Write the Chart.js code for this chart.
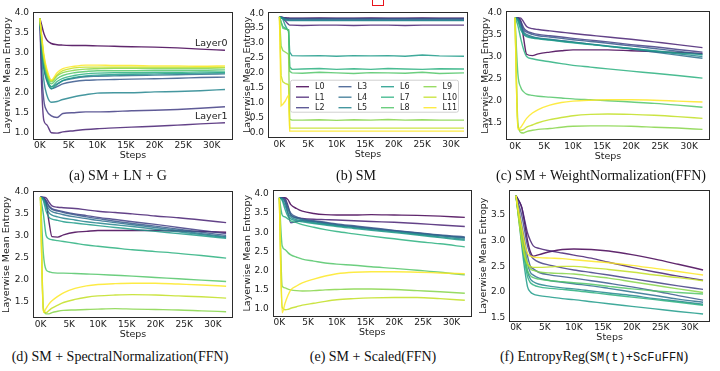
<!DOCTYPE html>
<html>
<head>
<meta charset="utf-8">
<script src="https://cdn.jsdelivr.net/npm/chart.js@4.4.1/dist/chart.umd.min.js"></script>
<style>
  body { margin: 0; background: #fff; }
  #fig { position: relative; width: 720px; height: 371px; overflow: hidden; }
  canvas { position: absolute; }
  .cap { position: absolute; width: 260px; text-align: center; font: 14px "Liberation Serif", "Times New Roman", serif; color: #111; line-height: 16px; white-space: nowrap; }
  .mono { font: 12px "Liberation Mono", monospace; }
  #mark { position: absolute; left: 372px; top: -2px; width: 10px; height: 6px; border: 1.5px solid #e8141c; }
</style>
</head>
<body>
<div id="fig">
  <canvas id="pa"></canvas>
  <canvas id="pb"></canvas>
  <canvas id="pc"></canvas>
  <canvas id="pd"></canvas>
  <canvas id="pe"></canvas>
  <canvas id="pf"></canvas>
  <div id="mark"></div>
  <div class="cap" style="left:-12px;top:168px">(a) SM + LN + G</div>
  <div class="cap" style="left:226px;top:168px">(b) SM</div>
  <div class="cap" style="left:471px;top:168px">(c) SM + WeightNormalization(FFN)</div>
  <div class="cap" style="left:-10px;top:349px">(d) SM + SpectralNormalization(FFN)</div>
  <div class="cap" style="left:243px;top:349px">(e) SM + Scaled(FFN)</div>
  <div class="cap" style="left:464px;top:349px">(f) EntropyReg(<span class="mono">SM(t)+ScFuFFN</span>)</div>
</div>
<script>
// layer names and viridis colours
const layerNames = ["L0", "L1", "L2", "L3", "L4", "L5", "L6", "L7", "L8", "L9", "L10", "L11"];
const layerColors = ["#440154", "#482173", "#433e85", "#38588c", "#2d708e", "#25858e",
                     "#1e9b8a", "#2ab07f", "#52c569", "#86d549", "#c2df23", "#fde725"];
const stepTicks = [0, 5000, 10000, 15000, 20000, 25000, 30000];

// (a) SM + LN + G
const stepsA = [0, 300, 700, 1200, 2000, 3000, 4000, 6000, 8000, 10000, 13000, 16000, 20000, 24000, 28000, 32300];
const entropyA = [
  [3.86, 3.7, 3.48, 3.32, 3.23, 3.2, 3.19, 3.18, 3.18, 3.17, 3.16, 3.15, 3.14, 3.12, 3.09, 3.06],
  [3.86, 2.2, 1.3, 1.2, 1.0, 0.99, 1.02, 1.05, 1.08, 1.1, 1.12, 1.14, 1.16, 1.19, 1.22, 1.25],
  [3.86, 2.6, 1.8, 1.55, 1.42, 1.38, 1.48, 1.5, 1.52, 1.52, 1.53, 1.55, 1.56, 1.58, 1.61, 1.65],
  [3.86, 3.2, 2.6, 2.3, 2.1, 2.15, 2.22, 2.28, 2.31, 2.32, 2.33, 2.34, 2.35, 2.36, 2.38, 2.39],
  [3.86, 3.2, 2.65, 2.35, 2.15, 2.22, 2.3, 2.36, 2.4, 2.41, 2.42, 2.43, 2.44, 2.45, 2.46, 2.47],
  [3.86, 3.0, 2.3, 1.95, 1.76, 1.78, 1.83, 1.9, 1.95, 1.99, 2.0, 2.0, 2.02, 2.03, 2.05, 2.08],
  [3.86, 3.3, 2.7, 2.35, 2.1, 2.2, 2.3, 2.38, 2.42, 2.44, 2.45, 2.46, 2.47, 2.48, 2.49, 2.5],
  [3.86, 3.3, 2.75, 2.4, 2.15, 2.28, 2.36, 2.43, 2.47, 2.49, 2.5, 2.5, 2.51, 2.51, 2.52, 2.52],
  [3.86, 3.35, 2.8, 2.45, 2.22, 2.35, 2.43, 2.5, 2.53, 2.55, 2.55, 2.55, 2.56, 2.56, 2.56, 2.57],
  [3.86, 3.4, 2.85, 2.5, 2.27, 2.42, 2.5, 2.56, 2.59, 2.6, 2.61, 2.61, 2.61, 2.61, 2.61, 2.62],
  [3.86, 3.4, 2.9, 2.55, 2.3, 2.45, 2.55, 2.62, 2.64, 2.64, 2.64, 2.64, 2.64, 2.64, 2.64, 2.64],
  [3.86, 3.45, 2.95, 2.6, 2.32, 2.5, 2.6, 2.66, 2.69, 2.69, 2.68, 2.68, 2.67, 2.67, 2.66, 2.67]
];

// (b) SM
const stepsB = [0, 300, 600, 1000, 1400, 1600, 1800, 2200, 4000, 7000, 10000, 13000, 16000, 19000, 22000, 25000, 28000, 32300];
const entropyB = [
  [3.88, 3.87, 3.86, 3.85, 3.84, 3.84, 3.83, 3.83, 3.83, 3.84, 3.83, 3.83, 3.84, 3.83, 3.83, 3.84, 3.83, 3.83],
  [3.88, 3.86, 3.82, 3.75, 3.66, 3.62, 3.6, 3.6, 3.59, 3.6, 3.6, 3.59, 3.6, 3.6, 3.59, 3.6, 3.6, 3.6],
  [3.88, 3.87, 3.85, 3.83, 3.81, 3.8, 3.8, 3.8, 3.8, 3.8, 3.81, 3.8, 3.8, 3.8, 3.81, 3.8, 3.8, 3.8],
  [3.88, 3.87, 3.86, 3.84, 3.82, 3.82, 3.82, 3.82, 3.82, 3.82, 3.82, 3.82, 3.82, 3.82, 3.82, 3.82, 3.82, 3.82],
  [3.88, 3.86, 3.84, 3.8, 3.78, 3.78, 3.77, 3.77, 3.77, 3.77, 3.77, 3.77, 3.77, 3.77, 3.77, 3.77, 3.77, 3.77],
  [3.88, 3.85, 3.82, 3.78, 3.75, 3.75, 3.75, 3.75, 3.75, 3.76, 3.75, 3.75, 3.76, 3.75, 3.75, 3.75, 3.76, 3.75],
  [3.88, 3.85, 3.8, 3.6, 3.45, 3.4, 2.7, 2.58, 2.57, 2.58, 2.56, 2.58, 2.57, 2.58, 2.56, 2.6, 2.57, 2.56],
  [3.88, 3.7, 3.55, 3.5, 3.45, 3.45, 2.2, 2.12, 2.13, 2.15, 2.12, 2.14, 2.12, 2.15, 2.13, 2.12, 2.14, 2.13],
  [3.88, 3.7, 3.5, 3.47, 3.45, 3.42, 2.05, 2.0, 1.99, 2.02, 2.0, 1.98, 2.01, 2.0, 1.99, 2.02, 1.98, 2.0],
  [3.88, 2.9, 2.75, 2.7, 2.65, 2.62, 0.45, 0.42, 0.42, 0.43, 0.41, 0.43, 0.42, 0.44, 0.42, 0.43, 0.42, 0.42],
  [3.88, 1.9, 1.7, 1.65, 1.62, 1.6, 0.16, 0.15, 0.15, 0.15, 0.15, 0.15, 0.15, 0.15, 0.15, 0.15, 0.15, 0.15],
  [3.88, 0.9, 0.95, 1.05, 1.2, 1.25, 0.05, 0.05, 0.05, 0.05, 0.05, 0.05, 0.05, 0.05, 0.05, 0.05, 0.05, 0.05]
];

// (c) SM + WeightNormalization(FFN)
const stepsC = [0, 500, 1000, 1500, 2000, 3000, 4000, 6000, 8000, 10000, 13000, 16000, 20000, 24000, 28000, 32300];
const entropyC = [
  [3.88, 3.87, 3.8, 3.4, 3.05, 3.02, 3.06, 3.1, 3.13, 3.15, 3.15, 3.15, 3.13, 3.11, 3.09, 3.07],
  [3.88, 3.88, 3.87, 3.78, 3.68, 3.63, 3.61, 3.58, 3.55, 3.52, 3.48, 3.44, 3.39, 3.33, 3.27, 3.2],
  [3.88, 3.87, 3.8, 3.65, 3.58, 3.53, 3.5, 3.47, 3.44, 3.41, 3.37, 3.33, 3.27, 3.22, 3.16, 3.1],
  [3.88, 3.86, 3.75, 3.6, 3.55, 3.5, 3.47, 3.44, 3.41, 3.38, 3.34, 3.3, 3.24, 3.18, 3.12, 3.05],
  [3.88, 3.85, 3.7, 3.55, 3.5, 3.45, 3.42, 3.39, 3.36, 3.33, 3.28, 3.23, 3.17, 3.1, 3.03, 2.96],
  [3.88, 3.84, 3.65, 3.52, 3.47, 3.43, 3.41, 3.38, 3.35, 3.32, 3.28, 3.24, 3.18, 3.12, 3.06, 3.0],
  [3.88, 3.8, 3.6, 3.5, 3.45, 3.42, 3.4, 3.37, 3.34, 3.31, 3.27, 3.23, 3.18, 3.13, 3.08, 3.04],
  [3.88, 3.7, 3.4, 3.15, 3.0, 2.95, 2.92, 2.88, 2.84, 2.8, 2.76, 2.72, 2.67, 2.62, 2.57, 2.51],
  [3.88, 2.6, 2.3, 2.2, 2.15, 2.12, 2.1, 2.08, 2.06, 2.04, 2.02, 2.0, 1.97, 1.94, 1.9, 1.85],
  [3.88, 1.5, 1.28, 1.27, 1.3, 1.33, 1.35, 1.37, 1.4, 1.42, 1.43, 1.43, 1.42, 1.4, 1.38, 1.35],
  [3.88, 1.4, 1.33, 1.35, 1.4, 1.45, 1.5, 1.57, 1.62, 1.66, 1.69, 1.7, 1.69, 1.67, 1.64, 1.6],
  [3.88, 1.35, 1.4, 1.5, 1.6, 1.72, 1.8, 1.9, 1.96, 1.99, 2.01, 2.02, 2.02, 2.01, 1.99, 1.97]
];

// (d) SM + SpectralNormalization(FFN)
const stepsD = [0, 500, 1000, 1500, 2000, 3000, 4000, 6000, 8000, 10000, 13000, 16000, 20000, 24000, 28000, 32300];
const entropyD = [
  [3.88, 3.87, 3.75, 3.3, 2.98, 2.97, 3.02, 3.08, 3.1, 3.12, 3.12, 3.12, 3.12, 3.11, 3.1, 3.08],
  [3.88, 3.88, 3.86, 3.76, 3.68, 3.65, 3.64, 3.62, 3.59, 3.56, 3.53, 3.5, 3.45, 3.41, 3.36, 3.3],
  [3.88, 3.87, 3.8, 3.68, 3.62, 3.58, 3.55, 3.5, 3.46, 3.42, 3.37, 3.32, 3.26, 3.19, 3.12, 3.05],
  [3.88, 3.86, 3.78, 3.66, 3.6, 3.56, 3.53, 3.48, 3.43, 3.39, 3.33, 3.28, 3.22, 3.15, 3.08, 3.01],
  [3.88, 3.85, 3.72, 3.6, 3.55, 3.51, 3.48, 3.43, 3.39, 3.35, 3.3, 3.25, 3.19, 3.12, 3.05, 2.98],
  [3.88, 3.84, 3.65, 3.52, 3.47, 3.43, 3.4, 3.36, 3.32, 3.29, 3.25, 3.21, 3.15, 3.09, 3.03, 2.96],
  [3.88, 3.8, 3.55, 3.42, 3.38, 3.35, 3.32, 3.29, 3.26, 3.23, 3.19, 3.15, 3.1, 3.05, 3.0, 2.94],
  [3.88, 3.5, 3.0, 2.93, 2.91, 2.89, 2.87, 2.83, 2.79, 2.76, 2.72, 2.68, 2.64, 2.6, 2.55, 2.49],
  [3.88, 2.6, 2.22, 2.18, 2.16, 2.15, 2.15, 2.14, 2.13, 2.12, 2.1, 2.08, 2.05, 2.02, 1.99, 1.96],
  [3.88, 1.35, 1.22, 1.22, 1.25, 1.28, 1.3, 1.31, 1.32, 1.33, 1.34, 1.33, 1.32, 1.31, 1.29, 1.27],
  [3.88, 1.3, 1.25, 1.3, 1.35, 1.42, 1.48, 1.55, 1.6, 1.63, 1.65, 1.66, 1.65, 1.63, 1.61, 1.58],
  [3.88, 1.25, 1.35, 1.45, 1.52, 1.62, 1.7, 1.8, 1.86, 1.89, 1.91, 1.92, 1.92, 1.9, 1.88, 1.85]
];

// (e) SM + Scaled(FFN)
const stepsE = [0, 500, 1000, 1500, 2000, 3000, 4000, 6000, 8000, 10000, 13000, 16000, 20000, 24000, 28000, 32300];
const entropyE = [
  [3.9, 3.9, 3.9, 3.85, 3.72, 3.62, 3.55, 3.49, 3.46, 3.45, 3.45, 3.46, 3.45, 3.44, 3.42, 3.39],
  [3.9, 3.9, 3.88, 3.7, 3.45, 3.38, 3.36, 3.34, 3.33, 3.32, 3.3, 3.28, 3.26, 3.23, 3.19, 3.15],
  [3.9, 3.9, 3.8, 3.5, 3.25, 3.28, 3.3, 3.28, 3.25, 3.2, 3.15, 3.1, 3.04, 2.98, 2.92, 2.86],
  [3.9, 3.89, 3.85, 3.65, 3.5, 3.4, 3.35, 3.3, 3.26, 3.22, 3.17, 3.12, 3.05, 2.99, 2.93, 2.88],
  [3.9, 3.88, 3.8, 3.6, 3.45, 3.37, 3.33, 3.28, 3.23, 3.19, 3.14, 3.09, 3.03, 2.97, 2.91, 2.85],
  [3.9, 3.86, 3.7, 3.5, 3.4, 3.33, 3.3, 3.25, 3.21, 3.17, 3.12, 3.07, 3.01, 2.95, 2.88, 2.82],
  [3.9, 3.83, 3.6, 3.42, 3.35, 3.3, 3.27, 3.23, 3.19, 3.15, 3.1, 3.05, 2.99, 2.93, 2.86, 2.79],
  [3.9, 3.45, 3.4, 3.35, 3.3, 3.25, 3.2, 3.13, 3.07, 3.02, 2.96, 2.9, 2.83, 2.76, 2.7, 2.62],
  [3.9, 2.65, 2.55, 2.47, 2.41, 2.35, 2.3, 2.25, 2.2, 2.17, 2.14, 2.1, 2.06, 2.01, 1.96, 1.89],
  [3.9, 1.6, 1.55, 1.52, 1.5, 1.48, 1.47, 1.48, 1.5, 1.51, 1.52, 1.52, 1.51, 1.48, 1.45, 1.41],
  [3.9, 1.05, 0.98, 0.99, 1.02, 1.06, 1.1, 1.15, 1.2, 1.24, 1.27, 1.29, 1.3, 1.3, 1.27, 1.23],
  [3.9, 0.9, 1.15, 1.35, 1.5, 1.6, 1.68, 1.78, 1.86, 1.92, 1.96, 1.97, 1.97, 1.96, 1.94, 1.92]
];

// (f) EntropyReg(SM(t)+ScFuFFN)
const stepsF = [0, 500, 1000, 1500, 2000, 2500, 3000, 4000, 6000, 8000, 10000, 13000, 16000, 20000, 24000, 28000, 32300];
const entropyF = [
  [3.88, 3.78, 3.65, 3.35, 3.0, 2.78, 2.7, 2.73, 2.79, 2.83, 2.84, 2.83, 2.8, 2.73, 2.64, 2.54, 2.43],
  [3.88, 3.78, 3.65, 3.4, 3.15, 3.0, 2.9, 2.85, 2.8, 2.76, 2.72, 2.66, 2.58, 2.48, 2.39, 2.31, 2.23],
  [3.88, 3.7, 3.5, 3.2, 2.9, 2.72, 2.65, 2.58, 2.52, 2.47, 2.43, 2.38, 2.33, 2.26, 2.19, 2.12, 2.05],
  [3.88, 3.6, 3.3, 3.0, 2.7, 2.5, 2.45, 2.38, 2.33, 2.3, 2.27, 2.22, 2.17, 2.1, 2.02, 1.93, 1.84],
  [3.88, 3.55, 3.2, 2.85, 2.55, 2.38, 2.33, 2.27, 2.22, 2.19, 2.16, 2.12, 2.07, 2.0, 1.93, 1.86, 1.8],
  [3.88, 3.5, 3.1, 2.7, 2.4, 2.25, 2.2, 2.15, 2.11, 2.08, 2.06, 2.02, 1.98, 1.93, 1.87, 1.82, 1.76],
  [3.88, 3.4, 2.9, 2.45, 2.1, 2.0, 1.96, 1.93, 1.9, 1.87, 1.85, 1.81, 1.77, 1.72, 1.67, 1.62, 1.57],
  [3.88, 3.45, 3.0, 2.6, 2.3, 2.18, 2.14, 2.1, 2.07, 2.05, 2.03, 1.99, 1.95, 1.9, 1.85, 1.8, 1.74],
  [3.88, 3.45, 3.05, 2.7, 2.42, 2.32, 2.28, 2.25, 2.22, 2.2, 2.18, 2.15, 2.11, 2.06, 2.02, 1.99, 1.96],
  [3.88, 3.5, 3.15, 2.8, 2.55, 2.45, 2.42, 2.39, 2.37, 2.36, 2.35, 2.31, 2.27, 2.2, 2.13, 2.06, 1.99],
  [3.88, 3.4, 3.0, 2.7, 2.55, 2.5, 2.48, 2.48, 2.49, 2.5, 2.5, 2.47, 2.44, 2.39, 2.33, 2.28, 2.22],
  [3.88, 3.55, 3.25, 2.95, 2.75, 2.7, 2.68, 2.67, 2.66, 2.65, 2.63, 2.6, 2.57, 2.52, 2.46, 2.4, 2.33]
];

const FONT = "'DejaVu Sans', sans-serif";
const INK = "#222";

function withAlpha(hex, a) {
    const n = parseInt(hex.slice(1), 16);
    return `rgba(${n >> 16},${(n >> 8) & 255},${n & 255},${a})`;
}

const framePlugin = {
    id: "frame",
    afterDraw(chart) {
        const {ctx, chartArea: a} = chart;
        ctx.save();
        ctx.strokeStyle = "#2b2b2b";
        ctx.lineWidth = 1;
        ctx.strokeRect(Math.round(a.left) + 0.5, Math.round(a.top) + 0.5,
            Math.round(a.right - a.left) - 1, Math.round(a.bottom - a.top) - 1);
        ctx.restore();
    }
};

// layout: canvas box and plot box in page pixels
function makePanel(id, steps, series, cfg) {
    const canvas = document.getElementById(id);
    canvas.width = cfg.w;
    canvas.height = cfg.h;
    canvas.style.left = cfg.x + "px";
    canvas.style.top = cfg.y + "px";
    const xAxisH = 22;
    const plot = cfg.plot;

    const datasets = series.map((vals, i) => ({
        label: layerNames[i],
        data: steps.map((s, k) => ({x: s, y: vals[k]})),
        borderColor: withAlpha(layerColors[i], 0.85),
        backgroundColor: withAlpha(layerColors[i], 0.85),
        borderWidth: 1.4,
        pointRadius: 0,
        cubicInterpolationMode: cfg.smooth ? "monotone" : "default",
        tension: 0,
        order: 11 - i
    }));

    return new Chart(canvas, {
        type: "line",
        data: {datasets},
        options: {
            responsive: false,
            animation: false,
            events: [],
            layout: {
                padding: {
                    left: 0,
                    top: plot.t - cfg.y,
                    right: cfg.x + cfg.w - plot.r,
                    bottom: cfg.y + cfg.h - plot.b - xAxisH
                }
            },
            plugins: {legend: {display: false}, tooltip: {enabled: false}},
            scales: {
                x: {
                    type: "linear",
                    min: cfg.xMin, max: cfg.xMax,
                    grid: {display: false, drawTicks: false},
                    border: {display: false},
                    afterBuildTicks: scale => { scale.ticks = stepTicks.map(v => ({value: v})); },
                    ticks: {
                        font: {family: FONT, size: 9}, color: INK, padding: 1,
                        maxRotation: 0, autoSkip: false,
                        callback: v => (v / 1000) + "K"
                    },
                    title: {display: true, text: "Steps", font: {family: FONT, size: 9.5}, color: INK, padding: {top: 0, bottom: 0}},
                    afterFit: scale => { scale.height = xAxisH; }
                },
                y: {
                    min: cfg.yMin, max: cfg.yMax,
                    grid: {display: false, drawTicks: false},
                    border: {display: false},
                    ticks: {
                        font: {family: FONT, size: 9}, color: INK, padding: 4,
                        stepSize: 0.5, includeBounds: false,
                        callback: v => v.toFixed(1)
                    },
                    title: {display: true, text: "Layerwise Mean Entropy", font: {family: FONT, size: 9.5}, color: INK, padding: {top: cfg.titlePad, bottom: 0}},
                    afterFit: scale => { scale.width = plot.l - cfg.x; }
                }
            }
        },
        plugins: [framePlugin].concat(cfg.extra || [])
    });
}

// "Layer0" / "Layer1" notes in (a)
const layerNotes = {
    id: "layerNotes",
    afterDatasetsDraw(chart) {
        const {ctx, scales} = chart;
        ctx.save();
        ctx.font = `9.5px ${FONT}`;
        ctx.fillStyle = INK;
        ctx.textAlign = "center";
        ctx.textBaseline = "middle";
        ctx.fillText("Layer0", scales.x.getPixelForValue(29900), scales.y.getPixelForValue(3.22));
        ctx.fillText("Layer1", scales.x.getPixelForValue(29900), scales.y.getPixelForValue(1.40));
        ctx.restore();
    }
};

// legend of (b), column by column
const legendB = {
    id: "legendB",
    afterDatasetsDraw(chart) {
        const {ctx, chartArea: a} = chart;
        const bx = a.left + 22, by = a.top + 68, bw = 168, bh = 32;
        ctx.save();
        ctx.beginPath();
        ctx.roundRect(bx + 0.5, by + 0.5, bw, bh, 2);
        ctx.fillStyle = "rgba(255,255,255,0.8)";
        ctx.fill();
        ctx.strokeStyle = "#d0d0d0";
        ctx.lineWidth = 1;
        ctx.stroke();
        ctx.font = `8px ${FONT}`;
        ctx.textBaseline = "middle";
        ctx.fillStyle = INK;
        layerNames.forEach((name, i) => {
            const col = Math.floor(i / 3), row = i % 3;
            const lx = bx + 6 + col * 42.5, ly = by + 7 + row * 10.5;
            ctx.strokeStyle = withAlpha(layerColors[i], 0.85);
            ctx.lineWidth = 1.4;
            ctx.beginPath();
            ctx.moveTo(lx, ly);
            ctx.lineTo(lx + 13, ly);
            ctx.stroke();
            ctx.fillText(name, lx + 19, ly + 0.5);
        });
        ctx.restore();
    }
};

makePanel("pa", stepsA, entropyA, {x: 0, y: 0, w: 240, h: 165, plot: {l: 33, t: 11.5, r: 233, b: 139.5},
    xMin: -1200, xMax: 33700, yMin: 0.83, yMax: 4.03, titlePad: 1.6, smooth: true, extra: [layerNotes]});
makePanel("pb", stepsB, entropyB, {x: 240, y: 0, w: 240, h: 165, plot: {l: 268, t: 11.7, r: 468, b: 138},
    xMin: -2000, xMax: 33000, yMin: -0.18, yMax: 4.05, titlePad: 1.6, smooth: false, extra: [legendB]});
makePanel("pc", stepsC, entropyC, {x: 480, y: 0, w: 240, h: 165, plot: {l: 506, t: 11, r: 710, b: 140},
    xMin: -1550, xMax: 33600, yMin: 1.11, yMax: 4.03, titlePad: 0, smooth: true});
makePanel("pd", stepsD, entropyD, {x: 0, y: 180, w: 240, h: 165, plot: {l: 33, t: 191, r: 233, b: 318.3},
    xMin: -1300, xMax: 33500, yMin: 1.12, yMax: 4.02, titlePad: 1, smooth: true});
makePanel("pe", stepsE, entropyE, {x: 240, y: 180, w: 240, h: 165, plot: {l: 272.7, t: 189.7, r: 471.7, b: 316.7},
    xMin: -1150, xMax: 33500, yMin: 0.8, yMax: 4.11, titlePad: 1.6, smooth: true});
makePanel("pf", stepsF, entropyF, {x: 477, y: 180, w: 243, h: 165, plot: {l: 509.3, t: 190, r: 710, b: 321.7},
    xMin: -1150, xMax: 33500, yMin: 1.42, yMax: 3.99, titlePad: 0.6, smooth: true});
</script>
</body>
</html>
